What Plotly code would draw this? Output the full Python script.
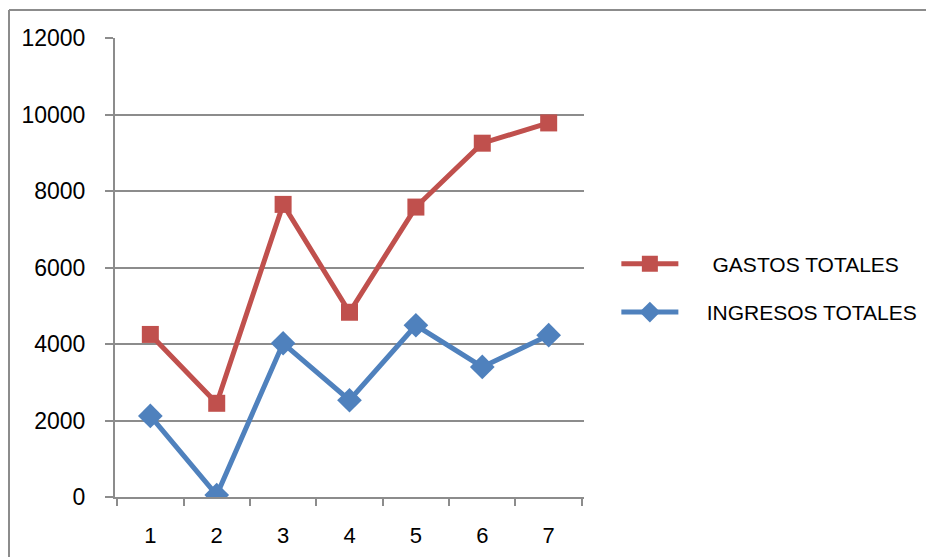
import plotly.graph_objects as go

periodos = ['1', '2', '3', '4', '5', '6', '7']
gastos_totales = [4250, 2450, 7650, 4830, 7580, 9250, 9780]
ingresos_totales = [2120, 50, 4020, 2530, 4490, 3400, 4230]
valores_y = [0, 2000, 4000, 6000, 8000, 10000, 12000]
etiquetas_y = ['0', '2000', '4000', '6000', '8000', '10000', '12000']

ROJO = '#C0504D'
AZUL = '#4F81BD'
GRIS = '#8C8C8C'
NB = '\u00a0'

fig = go.Figure()

fig.add_trace(go.Scatter(
    x=periodos, y=gastos_totales,
    name=NB * 5 + 'GASTOS TOTALES',
    mode='lines+markers',
    line=dict(color=ROJO, width=5),
    marker=dict(symbol='square', size=17, color=ROJO),
    legendgroup='g'
))

fig.add_trace(go.Scatter(
    x=periodos, y=ingresos_totales,
    name=NB * 4 + 'INGRESOS TOTALES',
    mode='lines+markers',
    line=dict(color=AZUL, width=5),
    marker=dict(symbol='diamond', size=19, color=AZUL),
    legendgroup='i'
))

# marco exterior del gráfico (solo se ven el borde superior y el izquierdo)
fig.add_shape(type='line', xref='paper', yref='paper',
              x0=-0.226, x1=1.9, y0=1.061, y1=1.061,
              line=dict(color=GRIS, width=2), layer='below')
fig.add_shape(type='line', xref='paper', yref='paper',
              x0=-0.226, x1=-0.226, y0=-0.3, y1=1.061,
              line=dict(color=GRIS, width=2), layer='below')

# la página tiene 8px de margen en el body: figura más pequeña para que no desborde
fig.update_layout(
    width=926, height=549,
    margin=dict(l=107, r=350, t=30, b=60),
    paper_bgcolor='white',
    plot_bgcolor='white',
    font=dict(family='Liberation Sans, Arial, sans-serif', size=22, color='black'),
    legend=dict(
        x=1.069, y=0.455, xanchor='left', yanchor='middle',
        traceorder='grouped', tracegroupgap=18,
        itemwidth=57,
        font=dict(size=21)
    ),
    xaxis=dict(
        type='category',
        tickson='boundaries',
        ticks='outside', ticklen=7, tickwidth=2, tickcolor=GRIS,
        showline=True, linecolor=GRIS, linewidth=2,
        showgrid=False,
        ticklabelstandoff=18,
        tickfont=dict(size=22),
        automargin=False
    ),
    yaxis=dict(
        range=[0, 12000], tickvals=valores_y, ticktext=etiquetas_y,
        ticks='outside', ticklen=8, tickwidth=2, tickcolor=GRIS,
        showline=True, linecolor=GRIS, linewidth=2,
        showgrid=True, gridcolor=GRIS, gridwidth=2,
        zeroline=False,
        ticklabelstandoff=15,
        tickfont=dict(size=23),
        automargin=False
    )
)

fig.write_html("out.html")
